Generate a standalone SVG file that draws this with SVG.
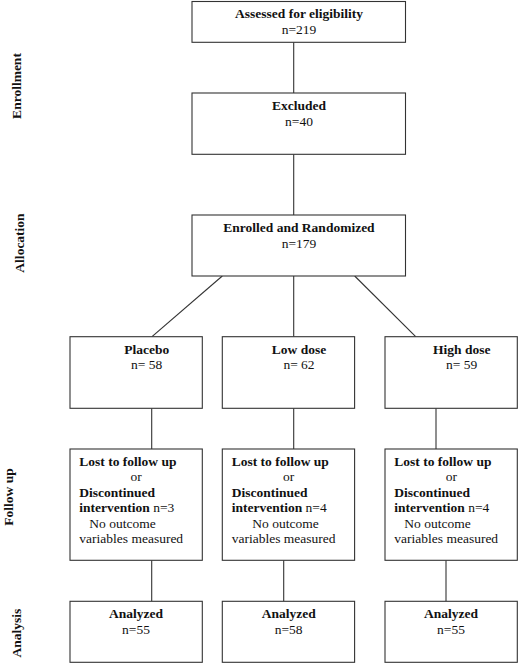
<svg xmlns="http://www.w3.org/2000/svg" width="520" height="666" viewBox="0 0 520 666">
<style>
rect{fill:#fff;stroke:#333;stroke-width:1.1}
line{stroke:#333;stroke-width:1.1}
text{font-family:"Liberation Serif","Times New Roman",serif;font-size:13.5px;fill:#111}
.b{font-weight:bold}
.c{text-anchor:middle}
</style>
<rect width="520" height="666" style="fill:#fff;stroke:none"/>
<g id="stages">
<text class="b c" transform="translate(21,86) rotate(-90)">Enrollment</text>
<text class="b c" transform="translate(24,243) rotate(-90)">Allocation</text>
<text class="b c" transform="translate(13,497) rotate(-90)">Follow up</text>
<text class="b c" transform="translate(21,633) rotate(-90)">Analysis</text>
</g>
<g id="connectors">
<line x1="293.7" y1="42.3" x2="293.7" y2="93"/>
<line x1="293.7" y1="154.3" x2="293.7" y2="215"/>
<line x1="222.3" y1="276" x2="152" y2="336.7"/>
<line x1="293.7" y1="276" x2="293.7" y2="336.7"/>
<line x1="354.7" y1="276" x2="415.7" y2="336.7"/>
<line x1="151.7" y1="408.3" x2="151.7" y2="449"/>
<line x1="293.7" y1="408.3" x2="293.7" y2="449"/>
<line x1="436" y1="408.3" x2="436" y2="449"/>
<line x1="151.7" y1="560.3" x2="151.7" y2="601.3"/>
<line x1="283.7" y1="560.3" x2="283.7" y2="601.3"/>
<line x1="446" y1="560.3" x2="446" y2="601.3"/>
</g>
<g id="assessed">
<rect x="192" y="1.5" width="213.5" height="40.8"/>
<text class="b c" x="299" y="18.3">Assessed for eligibility</text>
<text class="c" x="299" y="34">n=219</text>
</g>
<g id="excluded">
<rect x="192" y="93" width="213.5" height="61.3"/>
<text class="b c" x="299" y="110">Excluded</text>
<text class="c" x="299" y="125.7">n=40</text>
</g>
<g id="enrolled">
<rect x="192" y="215" width="213.5" height="61"/>
<text class="b c" x="299" y="231.7">Enrolled and Randomized</text>
<text class="c" x="299" y="247.7">n=179</text>
</g>
<g id="placebo">
<rect x="70" y="336.7" width="132.3" height="71.6"/>
<text class="b c" x="146.7" y="354">Placebo</text>
<text class="c" x="146.7" y="369.3">n= 58</text>
</g>
<g id="lowdose">
<rect x="222.3" y="336.7" width="132.3" height="71.6"/>
<text class="b c" x="299" y="354">Low dose</text>
<text class="c" x="299" y="369.3">n= 62</text>
</g>
<g id="highdose">
<rect x="385" y="336.7" width="132.3" height="71.6"/>
<text class="b c" x="461.7" y="354">High dose</text>
<text class="c" x="461.7" y="369.3">n= 59</text>
</g>
<g id="lost-placebo">
<rect x="70" y="449" width="132.3" height="111.3"/>
<text class="b" x="79.3" y="465.7">Lost to follow up</text>
<text class="c" x="136" y="481.3">or</text>
<text class="b" x="79.3" y="496.7">Discontinued</text>
<text x="79.3" y="512.3"><tspan class="b">intervention</tspan> n=3</text>
<text x="89.3" y="527.7">No outcome</text>
<text x="79.3" y="543.3">variables measured</text>
</g>
<g id="lost-low">
<rect x="222.3" y="449" width="132.3" height="111.3"/>
<text class="b" x="231.7" y="465.7">Lost to follow up</text>
<text class="c" x="288.7" y="481.3">or</text>
<text class="b" x="231.7" y="496.7">Discontinued</text>
<text x="231.7" y="512.3"><tspan class="b">intervention</tspan> n=4</text>
<text x="252.3" y="527.7">No outcome</text>
<text x="231.7" y="543.3">variables measured</text>
</g>
<g id="lost-high">
<rect x="385" y="449" width="132.3" height="111.3"/>
<text class="b" x="394.3" y="465.7">Lost to follow up</text>
<text class="c" x="451.3" y="481.3">or</text>
<text class="b" x="394.3" y="496.7">Discontinued</text>
<text x="394.3" y="512.3"><tspan class="b">intervention</tspan> n=4</text>
<text x="404.3" y="527.7">No outcome</text>
<text x="394.3" y="543.3">variables measured</text>
</g>
<g id="analyzed-placebo">
<rect x="70" y="601.3" width="132.3" height="61"/>
<text class="b c" x="136" y="618.3">Analyzed</text>
<text class="c" x="136" y="634">n=55</text>
</g>
<g id="analyzed-low">
<rect x="222.3" y="601.3" width="132.3" height="61"/>
<text class="b c" x="288.7" y="618.3">Analyzed</text>
<text class="c" x="288.7" y="634">n=58</text>
</g>
<g id="analyzed-high">
<rect x="385" y="601.3" width="132.3" height="61"/>
<text class="b c" x="451" y="618.3">Analyzed</text>
<text class="c" x="451" y="634">n=55</text>
</g>
</svg>
